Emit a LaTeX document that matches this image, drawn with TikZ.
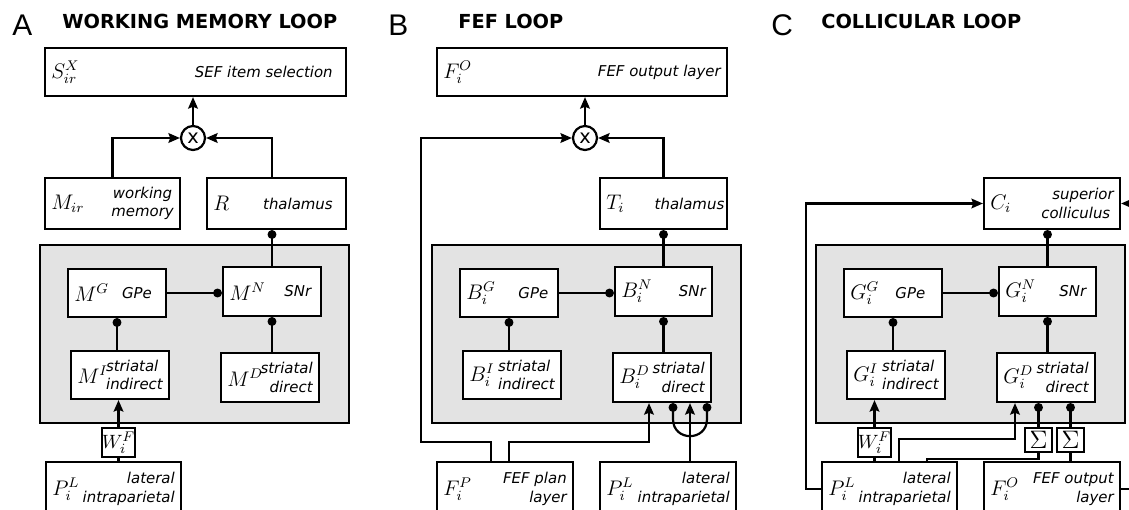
\documentclass[tikz,border=0pt]{standalone}
\usepackage[no-math]{fontspec}
\setmainfont{DejaVu Sans}
\newfontfamily\panelfont{Liberation Sans}
\usetikzlibrary{arrows.meta,calc,fit}
\tikzset{
	cell/.style={draw, fill=white, line width=1.25pt, inner sep=0pt},
	ganglia/.style={draw, fill=black!11, line width=1.25pt, inner sep=0pt},
	sym/.style={inner sep=0pt, font=\fontsize{12}{14}\selectfont},
	desc/.style={inner sep=0pt, font=\fontsize{8.5}{10.5}\selectfont\itshape},
	panel/.style={inner sep=0pt, font=\fontsize{17}{19}\selectfont\panelfont},
	title/.style={inner sep=0pt, font=\fontsize{11}{13}\selectfont\bfseries},
	mult/.style={circle, draw, fill=white, line width=1.25pt, minimum size=0.48cm, inner sep=0pt, font=\fontsize{11}{13}\selectfont},
	weight/.style={cell, minimum width=0.66cm, minimum height=0.58cm, font=\fontsize{10.95}{13}\selectfont},
	sumbox/.style={cell, minimum width=0.54cm, minimum height=0.48cm, font=\Large},
	wire/.style={line width=1.25pt},
	exc/.style={wire, -{Stealth[length=6.5pt,width=5.5pt,inset=1pt]}},
	inh/.style={wire, -{Circle[length=5pt]}},
}
% box with symbol on the left and description on the right
\newcommand\cellbox[5][right]{%
	\node[cell, fit={#3}] (#2) {};
	\node[sym, anchor=west] at ($(#2.west)+(7,0)$) {$#4$};
	\node[desc, align=#1, anchor=east] at ($(#2.east)+(-7,0)$) {#5};
}

\begin{document}
\begin{tikzpicture}[x=0.02cm, y=-0.02cm]
		%%%%% START %%%%%
		\useasboundingbox (0,0) rectangle (1129,510);
		\clip (0,0) rectangle (1129,510);
		
		%% A
		\node[panel, anchor=west] (la) at (12,25) {A};
		\node[title, anchor=west] (ta) at (62,21) {WORKING MEMORY LOOP};
		\node[ganglia, fit={(40,245) (349,423)}] (bga) {};
		
		\cellbox{sx}{(45,48) (346,96)}{S^X_{ir}}{SEF item selection\hspace*{4pt}}
		\node[mult] (xa) at (193,138) {x};
		\cellbox[center]{mir}{(45,178) (180,229)}{M_{ir}}{working\\memory}
		\cellbox{r}{(207,178) (346,229)}{R}{thalamus\hspace*{4pt}}
		\cellbox{mg}{(68,269) (166,317)}{M^G}{GPe\hspace*{4.5pt}}
		\cellbox{mn}{(223,267) (321,316)}{M^N}{SNr\hspace*{2pt}}
		\cellbox[left]{mi}{(71,351) (169,399)}{M^I}{striatal\\indirect}
		\cellbox{md}{(221,353) (319,402)}{M^D}{striatal\\direct}
		\node[weight] (wa) at (118.5,442.5) {$W^F_i$};
		\cellbox{pla}{(46,462) (181,516)}{P^L_i}{lateral\\intraparietal}
		
		\draw[exc] (xa) -- (xa |- sx.south);
		\draw[exc] (mir.north) |- (xa.west);
		\draw[exc] (mn.north |- r.north) |- (xa.east);
		\draw[inh] (mn.north) -- (mn.north |- r.south);
		\draw[inh] (mg.east) -- (mg.east -| mn.west);
		\draw[inh] (mg.south |- mi.north) -- (mg.south);
		\draw[inh] (mn.south |- md.north) -- (mn.south);
		\draw[wire] (wa.south |- pla.north) -- (wa.south);
		\draw[exc] (wa.north) -- (wa.north |- mi.south);
		
		%% B
		\node[panel, anchor=west] (lb) at (388,25) {B};
		\node[title, anchor=west] (tb) at (458,21) {FEF LOOP};
		\node[ganglia, fit={(432,245) (741,423)}] (bgb) {};
		
		\cellbox{fob}{(437,48) (727,96)}{F^O_i}{FEF output layer}
		\node[mult] (xb) at (585,138) {x};
		\cellbox{thb}{(600,178) (727,229)}{T_i}{thalamus\hspace*{-2pt}}
		\cellbox{bg}{(460,269) (558,317)}{B^G_i}{GPe\hspace*{2pt}}
		\cellbox{bn}{(615,267) (712,316)}{B^N_i}{SNr}
		\cellbox[left]{bi}{(463,351) (561,399)}{B^I_i}{striatal\\indirect}
		\cellbox{bd}{(613,353) (711,402)}{B^D_i}{striatal\\direct}
		\cellbox{fp}{(437,462) (573,516)}{F^P_i}{FEF plan\\layer}
		\cellbox{plb}{(600,462) (736,516)}{P^L_i}{lateral\\intraparietal}
		
		\draw[exc] (xb) -- (xb |- fob.south);
		\draw[exc] (bn.north |- thb.north) |- (xb.east);
		\draw[inh] (bn.north) -- (bn.north |- thb.south);
		\draw[inh] (bg.east) -- (bg.east -| bn.west);
		\draw[inh] (bg.south |- bi.north) -- (bg.south);
		\draw[inh] (bn.south |- bd.north) -- (bn.south);
		
		\coordinate (fpl) at ($(fp.north)+(-14,0)$);
		\coordinate (fpr) at ($(fp.north)+(4,0)$);
		\coordinate (bdin) at ($(bd.south)+(-13,0)$);
		\draw[exc] (fpl) |- (421,442) |- (xb.west);
		\draw[exc] (fpr) |- (bdin |- 0,442) -- (bdin);
		
		\coordinate (plin) at ($(plb.north)+(22,0)$);
		\coordinate (uc) at (plin |- bd.south);
		\draw[exc] (plin) -- (uc);
		\draw[wire, {Circle[length=5pt]}-{Circle[length=5pt]}] ($(uc)+(-17,0)$) -- ($(uc)+(-17,16)$)
			.. controls ($(uc)+(-17,38.7)$) and ($(uc)+(17,38.7)$) .. ($(uc)+(17,16)$) -- ($(uc)+(17,0)$);
		
		%% C
		\node[panel, anchor=west] (lc) at (771,25) {C};
		\node[title, anchor=west] (tc) at (821,21) {COLLICULAR LOOP};
		\node[ganglia, fit={(816,245) (1125,423)}] (bgc) {};
		
		\cellbox{cc}{(984,178) (1120,229)}{C_i}{superior\\colliculus\hspace*{2pt}}
		\cellbox{gg}{(844,269) (942,317)}{G^G_i}{GPe\hspace*{6pt}}
		\cellbox{gn}{(999,267) (1096,316)}{G^N_i}{SNr\hspace*{2pt}}
		\cellbox[left]{gi}{(847,351) (945,399)}{G^I_i}{striatal\\indirect}
		\cellbox{gd}{(997,353) (1095,402)}{G^D_i}{striatal\\direct}
		\node[weight] (wc) at (874.5,442.5) {$W^F_i$};
		\node[sumbox] (s1) at (1038.5,440) {$\Sigma$};
		\node[sumbox] (s2) at (1070.5,440) {$\Sigma$};
		\cellbox{plc}{(822,462) (957,516)}{P^L_i}{lateral\\intraparietal}
		\cellbox{foc}{(984,462) (1120,516)}{F^O_i}{FEF output\\layer}
		
		\draw[inh] (gn.north) -- (gn.north |- cc.south);
		\draw[inh] (gg.east) -- (gg.east -| gn.west);
		\draw[inh] (gg.south |- gi.north) -- (gg.south);
		\draw[inh] (gn.south |- gd.north) -- (gn.south);
		\draw[exc] (plc.west) -| ($(cc.west)+(-177,0)$) -- (cc.west);
		\draw[exc] (foc.east) -- ++(20,0) |- (cc.east);
		
		\draw[wire] (wc.south |- plc.north) -- (wc.south);
		\draw[exc] (wc.north) -- (wc.north |- gi.south);
		\draw[exc] ($(plc.north)+(9.5,0)$) |- ($(gd.south)+(-31,36)$) -- ($(gd.south)+(-31,0)$);
		\draw[wire] ($(plc.north)+(37.5,0)$) |- ($(s1.south)+(0,6)$) -- (s1.south);
		\draw[inh] (s1.north) -- (s1.north |- gd.south);
		\draw[wire] (s2.south |- foc.north) -- (s2.south);
		\draw[inh] (s2.north) -- (s2.north |- gd.south);
		
		%%%%% END %%%%%
\end{tikzpicture}
\end{document}
